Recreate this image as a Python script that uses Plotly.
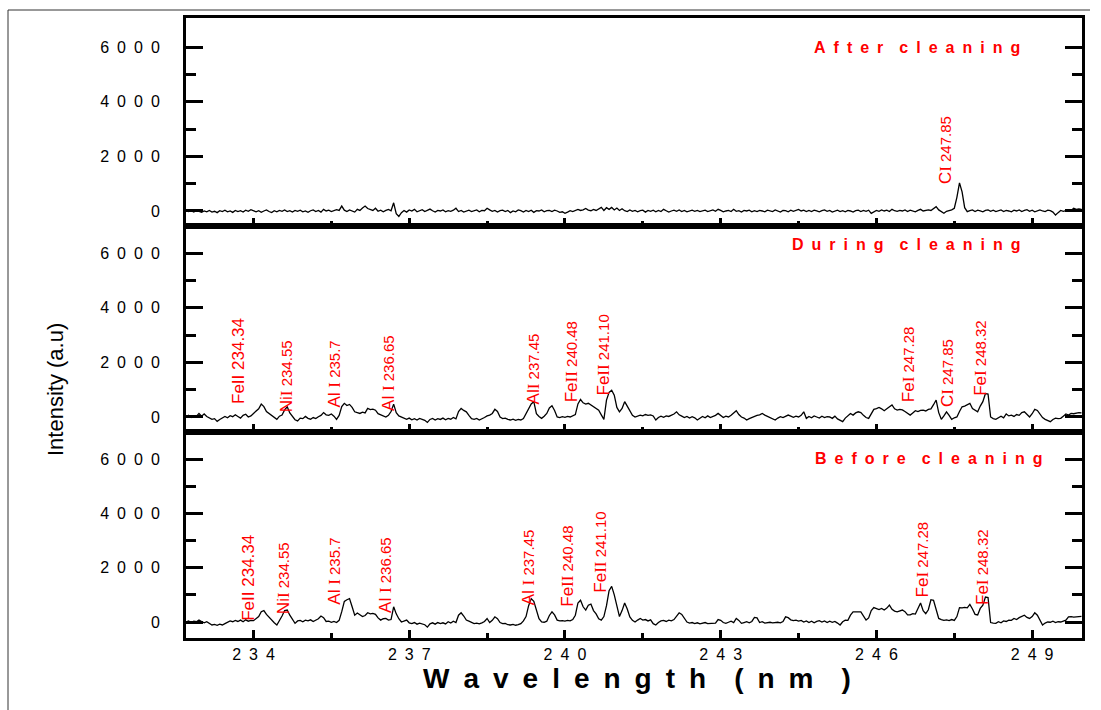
import numpy as np
import plotly.graph_objects as go
from plotly.subplots import make_subplots

# ---------------- data ----------------
wavelength = np.round(232.70 + 0.05 * np.arange(346), 2)

before_cleaning = [
    0, 40, -20, 30, 10, 70, 20, -30, 10, -60, -110, -90, -120, -80, -110, -60, -20, 40, 10, 60,
    20, 70, 10, 80, 30, 60, 50, 120, 200, 380, 420, 280, 170, 60, -30, -110, 40, 220, 420, 440,
    250, 90, -50, 40, 60, 10, 70, 40, 80, 20, 60, 120, 220, 160, 20, 30, -10, 20, -20, 60,
    380, 760, 820, 860, 560, 250, 330, 280, 200, 240, 340, 300, 320, 280, 150, 70, 120, 130, 70, 90,
    560, 300, 120, 0, 40, 70, -30, -60, -20, -80, -40, -60, -100, -190, -70, -30, -80, -20, -60, -30,
    -70, 10, -40, 30, -20, 250, 340, 220, 70, 30, -20, -60, -40, -70, -30, 20, 130, -20, 60, 190,
    120, -20, -60, -50, -100, -110, -90, -120, -100, -60, 40, 200, 600, 860, 760, 480, 120, 0, -10, 30,
    240, 375, 260, 70, 40, 50, 30, 60, 40, 90, 250, 700, 800, 560, 440, 620, 660, 420, 300, 120,
    70, 200, 600, 1150, 1310, 1000, 560, 200, 420, 700, 480, 190, 60, 0, 70, 130, 70, 90, 40, 80,
    -60, -110, -20, 40, 60, 20, 70, 40, 90, 200, 340, 280, 120, 0, -40, -20, -60, -30, -70, -40,
    -20, -60, -50, -30, -40, 90, 60, -20, -50, -10, 30, -20, 130, 60, -50, -20, 10, -30, 20, 170,
    150, -20, 10, -40, -20, -10, -30, -20, -10, -30, 20, 190, 160, 80, 50, 70, 30, 60, 0, 40,
    -20, 30, -30, 20, 50, 0, 40, -20, 30, -10, 20, -40, -110, 10, 70, 60, 250, 375, 360, 370,
    375, 200, 70, 150, 420, 530, 480, 460, 500, 440, 510, 620, 470, 400, 375, 420, 440, 380, 260, 260,
    310, 290, 500, 700, 420, 310, 450, 820, 800, 500, 130, 90, 60, 80, 50, 90, 60, 200, 530, 520,
    540, 520, 650, 480, 280, 260, 500, 620, 920, 900, -20, -40, -50, 10, -30, 40, 20, 70, 60, 130,
    90, 160, 200, 250, 170, 130, 200, 340, 250, 60, -110, -40, 0, -10, 30, -20, 10, 0, 40, 70,
    190, 200, 180, 190, 220, 210,
]

during_cleaning = [
    0, 60, -20, 40, 20, 130, 30, 110, 20, -40, -85, -60, -160, -90, -40, 20, -30, 50, 10, 80,
    20, -40, 60, 100, 0, 40, 130, 200, 300, 470, 380, 200, 130, 40, -30, -85, 30, 70, 260, 375,
    150, 0, -100, -145, -40, -60, 20, -50, -80, -20, -60, 10, 60, 160, 80, 60, 110, 30, -85, 60,
    380, 500, 420, 460, 350, 190, 160, 130, 180, 150, 315, 270, 290, 250, 120, 70, 30, 0, 60, 200,
    470, 160, 40, 0, -40, -85, -40, -100, -60, -110, -50, -90, -120, -200, -90, -50, -110, -60, -90, -40,
    -100, -50, -80, -20, -70, 200, 315, 240, 190, 60, -60, -85, -50, -110, -70, -20, 40, 70, 130, 280,
    200, 0, -60, -40, -90, -110, -80, -120, -90, -110, -60, 120, 250, 480, 560, 120, 20, -50, 30, 130,
    330, 410, 240, 0, -20, 10, -10, 20, 0, 40, 90, 480, 640, 520, 470, 500, 430, 375, 300, 250,
    80, -85, 620, 900, 980, 800, 350, 190, 310, 560, 400, 240, 60, 0, 50, 70, 40, 90, 60, 80,
    40, -110, -20, 30, -10, 40, 20, 60, 110, 190, 80, 30, -20, 20, -40, 10, -30, -110, -40, 20,
    -30, 40, -20, 10, 60, 130, 50, -20, 30, 0, 60, 150, 230, 90, 0, -40, -110, -60, -20, 40,
    60, 80, 130, 70, 20, -30, -60, -110, -40, 10, -20, 40, 70, 30, -10, 30, 0, 60, 190, -50,
    20, -30, 40, 0, -40, 30, -20, 10, 0, -50, 30, -70, -120, -170, -40, 60, 130, 70, 150, 190,
    160, 60, -20, -50, 120, 280, 310, 350, 300, 230, 300, 380, 440, 300, 250, 280, 260, 200, 140, 70,
    150, 230, 200, 240, 250, 220, 280, 300, 450, 620, 160, -85, 40, 190, 60, -85, -30, 0, 200, 375,
    400, 440, 500, 310, 250, 190, 400, 560, 860, 840, 0, -60, -85, -20, 30, -30, 110, 40, 70, 20,
    90, 60, 160, 190, 100, 0, 120, 280, 240, 130, -20, -85, -120, -170, -90, -40, -60, -50, 30, 110,
    70, 130, 120, 150, 160, 150,
]

after_cleaning = [
    30, -20, 10, -40, 20, -10, -50, 0, -30, 20, -40, -10, -60, 10, -20, 30, -30, 0, -50, 20,
    -20, 10, -40, 30, -10, 50, 20, -30, 10, -50, 0, 40, -20, -60, 10, -30, 20, -10, 40, -20,
    10, -40, 20, -10, 30, -30, 0, -50, 10, 40, -20, 20, -40, 60, 0, 30, -20, 10, 50, 20,
    180, 30, -20, 40, 10, -40, 60, 20, 110, 180, 90, 60, 20, 100, -10, 30, -30, 20, 60, 10,
    300, -100, -200, -60, 20, -40, 40, 0, 60, -30, 20, 50, -20, 30, 70, 10, -40, 20, 0, 40,
    -30, 10, -10, 30, 100, -20, 20, -40, 10, 30, -20, 0, 40, -30, 20, 10, 100, 40, -10, 20,
    -40, 10, 30, -20, 20, -60, 0, -30, 40, 10, -40, 20, -20, 30, -50, 10, 0, 40, -30, 10,
    20, -20, 30, 0, -50, -30, -85, -40, 10, -20, 30, 60, 20, 40, 90, 30, 10, 60, 20, 70,
    130, 20, 120, 60, 130, 40, 110, 20, 80, 10, -20, 40, -10, 20, -30, 10, 30, -40, 20, -10,
    30, -30, 20, -20, 60, 10, -40, 0, 30, -10, 40, -20, 20, -30, 0, 30, -10, 20, -20, 10,
    30, -20, 10, 40, -10, 60, 20, -30, 0, 20, -20, 60, -10, 10, -40, 20, 0, 30, -30, 10,
    -20, 20, 0, -30, 30, 10, -20, 40, 0, -40, 20, 10, -30, 30, -10, 20, 60, 0, 30, -20,
    20, -20, 30, 0, -30, 10, 40, -10, 20, -40, 0, 30, -20, 10, -30, 20, 0, -40, 10, 30,
    -20, 20, -10, 30, -85, -40, 20, -10, 40, 0, 30, -20, 60, 10, -10, 20, 0, 40, -20, 30,
    10, -30, 20, 60, 0, 30, 40, 20, 90, 160, 40, -20, -85, -10, 20, 40, 100, 500, 1030, 700,
    120, -25, 10, 40, -20, 30, 0, -30, 20, 40, -10, 30, -20, 10, 40, -20, 20, 0, -30, 30,
    0, 40, -20, 20, 50, -10, 30, -30, 10, 40, 0, -20, 30, 10, -40, -150, -60, 20, -10, 10,
    40, 20, 100, 60, 80, 60,
]

x_tick_values = [234, 237, 240, 243, 246, 249]
x_tick_labels = ["2\u20023\u20024", "2\u20023\u20027", "2\u20024\u20020",
                 "2\u20024\u20023", "2\u20024\u20026", "2\u20024\u20029"]
x_minor_values = [235.5, 238.5, 241.5, 244.5, 247.5]
y_tick_values = [0, 2000, 4000, 6000]
y_tick_labels = ["0", "2\u20020\u20020\u20020", "4\u20020\u20020\u20020", "6\u20020\u20020\u20020"]
y_minor_values = [1000, 3000, 5000]

panel_titles = [("After", "cleaning"), ("During", "cleaning"), ("Before", "cleaning")]

# line labels: (element, ion, number, x position, bottom y)
labels_after = [("C", "I", "247.85", 247.32, 945)]
labels_during = [
    ("FeII 234.34", None, None, 233.70, 436),
    ("Ni", "I", "234.55", 234.63, 145),
    ("Al ", "I", "235.7", 235.57, 327),
    ("Al ", "I", "236.65", 236.59, 182),
    ("Al", "I", "237.45", 239.40, 436),
    ("Fe", "II", "240.48", 240.13, 509),
    ("Fe", "II", "241.10", 240.75, 764),
    ("Fe", "I", "247.28", 246.61, 509),
    ("C", "I", "247.85", 247.36, 327),
    ("Fe", "I", "248.32", 247.99, 727),
]
labels_before = [
    ("FeII 234.34", None, None, 233.89, 0),
    ("Ni", "I", "234.55", 234.57, 255),
    ("Al ", "I", "235.7", 235.57, 618),
    ("Al ", "I", "236.65", 236.53, 291),
    ("Al ", "I", "237.45", 239.29, 582),
    ("Fe", "II", "240.48", 240.06, 509),
    ("Fe", "II", "241.10", 240.69, 1054),
    ("Fe", "I", "247.28", 246.88, 873),
    ("Fe", "I", "248.32", 248.03, 582),
]

# ---------------- figure ----------------
W, H = 1101, 710
fig = make_subplots(rows=3, cols=1, shared_xaxes=True, vertical_spacing=0)

series = [after_cleaning, during_cleaning, before_cleaning]
for i, s in enumerate(series):
    fig.add_trace(go.Scatter(x=wavelength, y=s, mode="lines",
                             line=dict(color="black", width=1.3),
                             showlegend=False, hoverinfo="skip"),
                  row=i + 1, col=1)

def px_x(p):
    return p / W

def px_y(p):
    return 1 - p / H

x_dom = [px_x(186), px_x(1082)]
y_doms = [[px_y(226), px_y(18)], [px_y(432), px_y(226)], [px_y(638), px_y(432)]]
y_ranges = [[-549, 7061], [-549, 6988], [-589, 6994]]

font_main = "Liberation Sans, Arial, sans-serif"

for i in range(3):
    xa = "xaxis" if i == 0 else f"xaxis{i+1}"
    ya = "yaxis" if i == 0 else f"yaxis{i+1}"
    fig.layout[xa].update(
        domain=x_dom, range=[232.70, 249.96], showgrid=False, zeroline=False,
        showline=True, linewidth=3, linecolor="black", mirror=True,
        ticks="inside", ticklen=8, tickwidth=2.5, tickcolor="black",
        tickmode="array", tickvals=x_tick_values, ticktext=x_tick_labels,
        showticklabels=(i == 2), ticklabelstandoff=0,
        tickfont=dict(family=font_main, size=16, color="black"),
        minor=dict(tickmode="array", tickvals=x_minor_values, ticks="inside",
                   ticklen=5, tickwidth=2.5, tickcolor="black", showgrid=False),
    )
    fig.layout[ya].update(
        domain=y_doms[i], range=y_ranges[i], showgrid=False, zeroline=False,
        showline=True, linewidth=3, linecolor="black", mirror="ticks",
        ticks="inside", ticklen=17, tickwidth=2.5, tickcolor="black",
        tickmode="array", tickvals=y_tick_values, ticktext=y_tick_labels,
        ticklabelstandoff=20,
        tickfont=dict(family=font_main, size=16, color="black"),
        minor=dict(tickmode="array", tickvals=y_minor_values, ticks="inside",
                   ticklen=10, tickwidth=2.5, tickcolor="black", showgrid=False),
    )

annotations = []

def make_label(elem, ion, num):
    if ion is None:
        return elem
    return (elem + "<span style='font-family:Liberation Serif'>" + ion + "</span>"
            + "<span style='font-family:Liberation Sans Narrow, Liberation Sans;font-size:15px'> "
            + num + "</span>")

for i, labs in enumerate([labels_after, labels_during, labels_before]):
    xr = "x" if i == 0 else f"x{i+1}"
    yr = "y" if i == 0 else f"y{i+1}"
    for elem, ion, num, xv, yv in labs:
        annotations.append(dict(
            x=xv, y=yv, xref=xr, yref=yr, text=make_label(elem, ion, num),
            textangle=-90, showarrow=False, xanchor="center", yanchor="bottom",
            font=dict(family=font_main, size=17, color="#ff0000"),
            borderpad=0,
        ))

title_pos = [(1022, 47), (1022, 244), (1045, 458)]
for (w1, w2), (px, py) in zip(panel_titles, title_pos):
    spaced = "\u2002".join(w1) + "\u2002\u2002" + "\u2002".join(w2)
    annotations.append(dict(
        x=px_x(px), y=px_y(py), xref="paper", yref="paper",
        text="<b>" + spaced + "</b>", showarrow=False, xanchor="right", yanchor="middle",
        font=dict(family=font_main, size=16, color="#ff0000"),
    ))

x_title = "\u2002".join("Wavelength") + "\u2002\u2002" + "(\u2002n\u2002m\u2002\u2002)"
annotations.append(dict(
    x=px_x(637), y=px_y(678), xref="paper", yref="paper", text="<b>" + x_title + "</b>",
    showarrow=False, xanchor="center", yanchor="middle",
    font=dict(family=font_main, size=28, color="black"),
))
annotations.append(dict(
    x=px_x(55), y=px_y(390), xref="paper", yref="paper", text="Intensity (a.u)",
    textangle=-90, showarrow=False, xanchor="center", yanchor="middle",
    font=dict(family=font_main, size=22, color="black"),
))

shapes = [
    dict(type="line", xref="paper", yref="paper", x0=px_x(8), x1=px_x(1090),
         y0=px_y(10), y1=px_y(10), line=dict(color="#333333", width=1)),
    dict(type="line", xref="paper", yref="paper", x0=px_x(8), x1=px_x(8),
         y0=px_y(10), y1=0, line=dict(color="#333333", width=1)),
]

fig.update_layout(
    width=W, height=H, margin=dict(l=0, r=0, t=0, b=0),
    paper_bgcolor="white", plot_bgcolor="white",
    annotations=annotations, shapes=shapes, showlegend=False,
)

fig.write_html("out.html")
